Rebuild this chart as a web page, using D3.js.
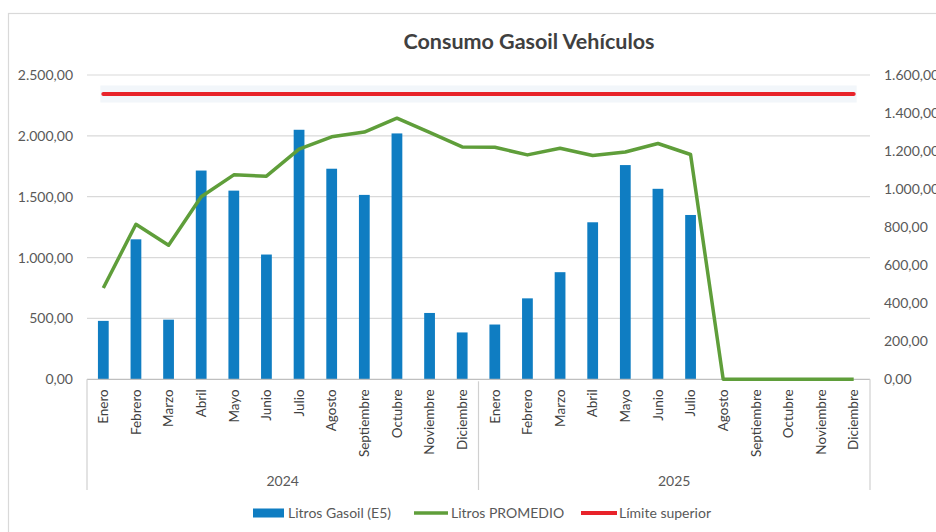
<!DOCTYPE html>
<html><head><meta charset="utf-8">
<script src="https://cdn.jsdelivr.net/npm/d3@7"></script>
<style>
html,body{margin:0;padding:0;background:#fff;}
svg text{font-family:Lato,"Open Sans",sans-serif;}
</style></head>
<body><svg id="c" width="936" height="532"></svg>
<script>
const months = ["Enero","Febrero","Marzo","Abril","Mayo","Junio","Julio","Agosto","Septiembre","Octubre","Noviembre","Diciembre"];
const years = ["2024","2025"];
const litros = [480,1150,490,1715,1550,1025,2050,1730,1515,2020,545,385,
                450,665,880,1290,1760,1565,1350,null,null,null,null,null];
const promedio = [480,815,705,960,1075,1068,1210,1275,1300,1373,1298,1222,
                  1220,1180,1215,1177,1195,1240,1182,0,0,0,0,0];
const limite = 1500;
const leftTicks = [0,500,1000,1500,2000,2500];
const rightTicks = [0,200,400,600,800,1000,1200,1400,1600];
const title = "Consumo Gasoil Vehículos";
const legendLabels = ["Litros Gasoil (E5)","Litros PROMEDIO","Límite superior"];

const cats = [];
years.forEach(y => months.forEach(m => cats.push(y + "|" + m)));

const svg = d3.select("#c");
const L = 87, R = 870, T = 75, B = 379.3;
const fmt = v => {
  const s = v.toFixed(2).replace(".", ",");
  const [i, d] = s.split(",");
  return i.replace(/\B(?=(\d{3})+(?!\d))/g, ".") + "," + d;
};

// frame
svg.append("rect").attr("x",8.5).attr("y",13.5).attr("width",940).attr("height",530)
  .attr("fill","#fff").attr("stroke","#d9d9d9").attr("stroke-width",1.2);

const x = d3.scaleBand().domain(cats).range([L,R]).paddingInner(0.67).paddingOuter(0.335);
const xc = d3.scaleBand().domain(cats).range([L,R]);
const yL = d3.scaleLinear().domain([0,2500]).range([B,T]);
const yR = d3.scaleLinear().domain([0,1600]).range([B,T]);

// gridlines
svg.append("g").selectAll("line").data(leftTicks.slice(1)).join("line")
  .attr("x1",L).attr("x2",R).attr("y1",d=>yL(d)).attr("y2",d=>yL(d))
  .attr("stroke","#d9d9d9").attr("stroke-width",1.2);

// left axis
const gl = svg.append("g").attr("transform",`translate(${L-14},0)`)
  .call(d3.axisLeft(yL).tickValues(leftTicks).tickFormat(fmt).tickSize(0).tickPadding(0));
gl.select(".domain").remove();
gl.selectAll("text").attr("fill","#595959").style("font-size","14px");

// right axis
const gr = svg.append("g").attr("transform",`translate(${R+14},0)`)
  .call(d3.axisRight(yR).tickValues(rightTicks).tickFormat(fmt).tickSize(0).tickPadding(0));
gr.select(".domain").remove();
gr.selectAll("text").attr("fill","#595959").style("font-size","14px");

// bars
svg.append("g").selectAll("rect").data(cats.map((c,i)=>({c,v:litros[i]})).filter(d=>d.v!=null)).join("rect")
  .attr("x",d=>x(d.c)).attr("width",x.bandwidth())
  .attr("y",d=>yL(d.v)).attr("height",d=>yL(0)-yL(d.v))
  .attr("fill","#0f7dc2");

// x axis baseline
svg.append("line").attr("x1",L).attr("x2",R).attr("y1",B).attr("y2",B)
  .attr("stroke","#bfbfbf").attr("stroke-width",1.2);

// category separators (multi-level)
const sepX = [L, xc(cats[12]), R];
svg.append("g").selectAll("line").data(sepX).join("line")
  .attr("x1",d=>d).attr("x2",d=>d).attr("y1",(d,i)=>i===1?B+2:B).attr("y2",490)
  .attr("stroke","#d0d0d0").attr("stroke-width",1.2);

// month labels
const gx = svg.append("g").attr("transform",`translate(0,${B})`)
  .call(d3.axisBottom(xc).tickSize(0).tickFormat(d=>d.split("|")[1]));
gx.select(".domain").remove();
gx.selectAll("text")
  .attr("transform","rotate(-90)").attr("x",-10).attr("y",0).attr("dy","0.35em")
  .attr("text-anchor","end").attr("fill","#404040").style("font-size","13.5px");

// year labels
svg.append("g").selectAll("text").data(years).join("text")
  .attr("x",(d,i)=>(sepX[i]+sepX[i+1])/2).attr("y",486)
  .attr("text-anchor","middle").attr("fill","#595959").style("font-size","14px")
  .text(d=>d);

// limit line with soft halo
const cx = c => xc(c) + xc.bandwidth()/2;
svg.append("line").attr("x1",cx(cats[0])-3).attr("x2",cx(cats[23])+3)
  .attr("y1",yR(limite)).attr("y2",yR(limite))
  .attr("stroke","#f2f6fa").attr("stroke-width",17);
svg.append("line").attr("x1",cx(cats[0])).attr("x2",cx(cats[23]))
  .attr("y1",yR(limite)).attr("y2",yR(limite))
  .attr("stroke","#e8232a").attr("stroke-width",4).attr("stroke-linecap","round");

// promedio line
svg.append("path").datum(promedio)
  .attr("d",d3.line().x((d,i)=>cx(cats[i])).y(d=>yR(d)))
  .attr("fill","none").attr("stroke","#5f9e3a").attr("stroke-width",3.5)
  .attr("stroke-linejoin","round");

// title
svg.append("text").attr("x",529).attr("y",49).attr("text-anchor","middle")
  .attr("fill","#404040").style("font-size","21.5px").style("font-weight","bold").text(title);

// legend
const lg = svg.append("g").attr("transform","translate(0,513)");
lg.append("rect").attr("x",253).attr("y",-4.5).attr("width",31).attr("height",9).attr("fill","#0f7dc2");
lg.append("text").attr("x",288).attr("y",0).attr("dy","0.35em").attr("fill","#595959").style("font-size","14px").text(legendLabels[0]);
lg.append("line").attr("x1",414).attr("x2",448).attr("y1",0).attr("y2",0).attr("stroke","#5f9e3a").attr("stroke-width",3.5);
lg.append("text").attr("x",451).attr("y",0).attr("dy","0.35em").attr("fill","#595959").style("font-size","14px").text(legendLabels[1]);
lg.append("line").attr("x1",581).attr("x2",617).attr("y1",0).attr("y2",0).attr("stroke","#e8232a").attr("stroke-width",4);
lg.append("text").attr("x",619).attr("y",0).attr("dy","0.35em").attr("fill","#595959").style("font-size","14px").text(legendLabels[2]);
</script></body></html>
